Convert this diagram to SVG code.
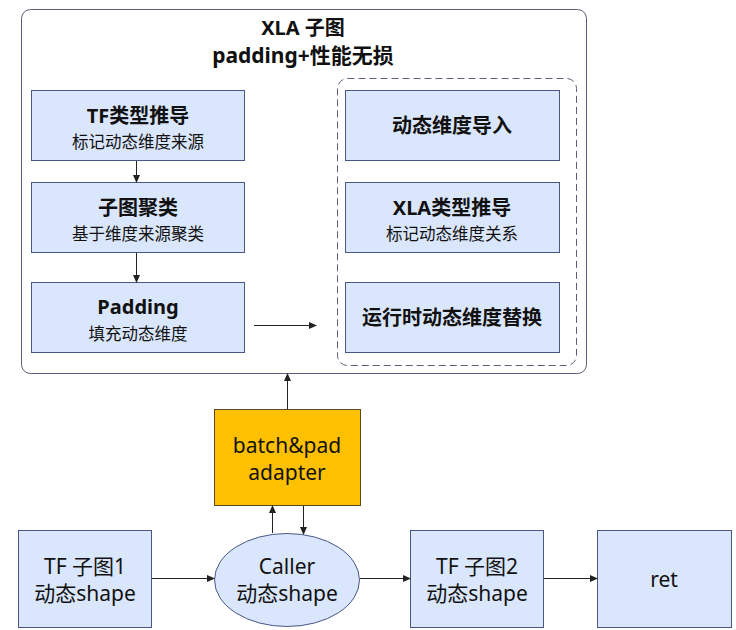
<svg xmlns="http://www.w3.org/2000/svg" width="736" height="630" viewBox="0 0 736 630">
<defs>
<marker id="ah" markerWidth="8" markerHeight="8" refX="7" refY="4" orient="auto" markerUnits="userSpaceOnUse">
<path d="M0,0.5 L8,4 L0,7.5 Z" fill="#222"/>
</marker>
<style>
.box{fill:#dae6fb;stroke:#4a5786;stroke-width:1}
.t{font-family:"Noto Sans","Noto Sans CJK SC",sans-serif;fill:#111;text-anchor:middle}
.b{font-weight:bold;font-size:20px}
.s{font-size:16.5px}
.n{font-size:21px}
.c{stroke:#222;stroke-width:1;fill:none;marker-end:url(#ah)}
</style>
</defs>
<rect width="736" height="630" fill="#ffffff"/>
<g id="xla">
<rect x="21.5" y="9.5" width="565" height="364" rx="9" fill="#fff" stroke="#5a607a"/>
<text class="t b" x="303" y="35">XLA 子图</text>
<text class="t b" x="303" y="63" style="font-size:21px">padding+性能无损</text>
</g>
<g id="dyn">
<rect x="337.5" y="78.5" width="239" height="287" rx="10" fill="none" stroke="#5a607a" stroke-dasharray="7,4"/>
</g>
<g id="tf-type">
<rect class="box" x="31.5" y="90.5" width="213" height="70"/>
<text class="t b" x="138" y="123">TF类型推导</text>
<text class="t s" x="138" y="148">标记动态维度来源</text>
</g>
<g id="cluster">
<rect class="box" x="31.5" y="182.5" width="213" height="70"/>
<text class="t b" x="138" y="215">子图聚类</text>
<text class="t s" x="138" y="240">基于维度来源聚类</text>
</g>
<g id="padding">
<rect class="box" x="31.5" y="282.5" width="213" height="70"/>
<text class="t b" x="138" y="314">Padding</text>
<text class="t s" x="138" y="340">填充动态维度</text>
</g>
<g id="import">
<rect class="box" x="345.5" y="90.5" width="214" height="70"/>
<text class="t b" x="452" y="133">动态维度导入</text>
</g>
<g id="xla-type">
<rect class="box" x="345.5" y="182.5" width="214" height="70"/>
<text class="t b" x="452" y="215">XLA类型推导</text>
<text class="t s" x="452" y="240">标记动态维度关系</text>
</g>
<g id="runtime">
<rect class="box" x="345.5" y="282.5" width="214" height="70"/>
<text class="t b" x="452" y="325">运行时动态维度替换</text>
</g>
<g id="adapter">
<rect x="214.5" y="409.5" width="146" height="96" fill="#fec000" stroke="#5a4a20"/>
<text class="t n" x="287" y="453">batch&amp;pad</text>
<text class="t n" x="287" y="480">adapter</text>
</g>
<g id="tf1">
<rect class="box" x="18.5" y="530.5" width="133" height="97"/>
<text class="t n" x="85" y="574">TF 子图1</text>
<text class="t n" x="85" y="601">动态shape</text>
</g>
<g id="caller">
<ellipse cx="287" cy="580" rx="72.5" ry="46.5" fill="#dae6fb" stroke="#4a5786"/>
<text class="t n" x="287" y="574">Caller</text>
<text class="t n" x="287" y="601">动态shape</text>
</g>
<g id="tf2">
<rect class="box" x="410.5" y="530.5" width="133" height="97"/>
<text class="t n" x="477" y="574">TF 子图2</text>
<text class="t n" x="477" y="601">动态shape</text>
</g>
<g id="ret">
<rect class="box" x="597.5" y="530.5" width="134" height="97"/>
<text class="t n" x="664" y="587">ret</text>
</g>
<g id="connectors">
<line class="c" x1="136.5" y1="161" x2="136.5" y2="182"/>
<line class="c" x1="136.5" y1="253" x2="136.5" y2="282"/>
<line class="c" x1="254" y1="325.5" x2="316" y2="325.5"/>
<line class="c" x1="287.5" y1="409" x2="287.5" y2="374"/>
<line class="c" x1="272.5" y1="533" x2="272.5" y2="506"/>
<line class="c" x1="303.5" y1="506" x2="303.5" y2="534"/>
<line class="c" x1="152" y1="578.5" x2="214" y2="578.5"/>
<line class="c" x1="360" y1="578.5" x2="410" y2="578.5"/>
<line class="c" x1="544" y1="578.5" x2="597" y2="578.5"/>
</g>
</svg>
